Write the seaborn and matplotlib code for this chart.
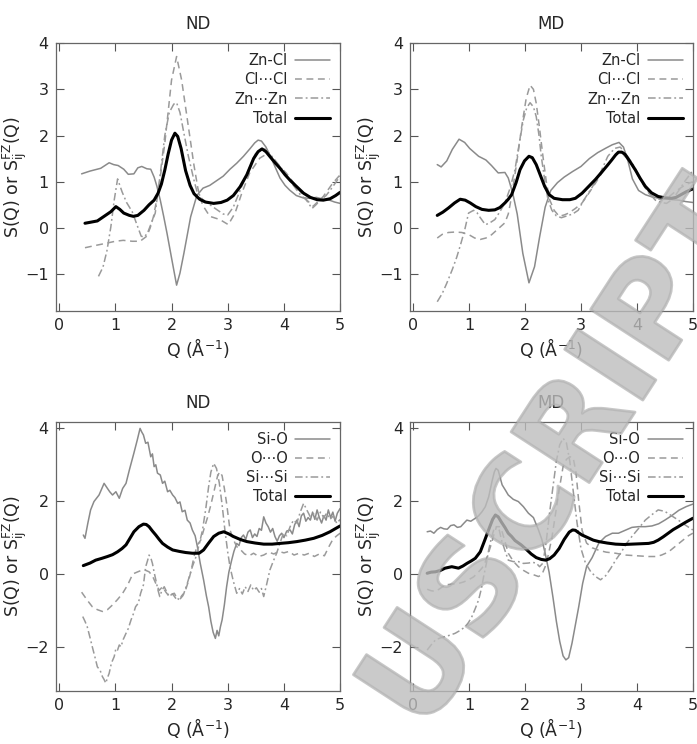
import matplotlib
matplotlib.use("Agg")
import numpy as np
import pandas as pd
import seaborn as sns
from matplotlib import pyplot as plt
from matplotlib import patheffects

# ---- top-left: ZnCl2, ND ----
q_nd_zncl = [0.40, 0.55, 0.74, 0.89, 0.97, 1.05, 1.15, 1.23, 1.33, 1.40, 1.47, 1.56, 1.63, 1.69, 1.74,
             1.80, 1.86, 1.92, 2.00, 2.09, 2.15, 2.22, 2.34, 2.45, 2.56, 2.68, 2.80, 2.92, 3.04, 3.16,
             3.28, 3.40, 3.48, 3.54, 3.60, 3.68, 3.76, 3.85, 3.93, 4.02, 4.10, 4.22, 4.34, 4.46, 4.58,
             4.70, 4.81, 4.90, 5.00]
s_nd_zncl = [1.17, 1.23, 1.29, 1.41, 1.37, 1.35, 1.27, 1.16, 1.17, 1.30, 1.33, 1.28, 1.27, 1.10, 0.90,
             0.60, 0.25, -0.12, -0.65, -1.24, -0.98, -0.55, 0.24, 0.70, 0.86, 0.92, 1.02, 1.12, 1.27, 1.40,
             1.55, 1.72, 1.84, 1.90, 1.88, 1.75, 1.55, 1.30, 1.08, 0.92, 0.82, 0.70, 0.65, 0.64, 0.66,
             0.62, 0.60, 0.56, 0.53]
q_nd_clcl = [0.46, 0.65, 0.85, 1.00, 1.14, 1.30, 1.44, 1.56, 1.62, 1.68, 1.77, 1.88, 2.00, 2.09, 2.18,
             2.30, 2.40, 2.47, 2.55, 2.68, 2.86, 3.01, 3.13, 3.25, 3.39, 3.57, 3.72, 3.87, 4.04, 4.22,
             4.40, 4.52, 4.70, 4.87, 5.00]
s_nd_clcl = [-0.43, -0.38, -0.33, -0.29, -0.27, -0.29, -0.29, -0.18, 0.00, 0.25, 0.83, 1.83, 3.20, 3.71, 3.20,
             2.19, 1.35, 0.85, 0.50, 0.25, 0.18, 0.07, 0.32, 0.75, 1.19, 1.51, 1.62, 1.40, 1.19, 0.90,
             0.61, 0.47, 0.68, 0.97, 1.15]
q_nd_znzn = [0.70, 0.78, 0.85, 0.92, 0.98, 1.04, 1.12, 1.20, 1.30, 1.39, 1.46, 1.51, 1.57, 1.64, 1.71,
             1.80, 1.88, 1.96, 2.04, 2.09, 2.15, 2.22, 2.30, 2.40, 2.45, 2.55, 2.66, 2.80, 2.92, 3.00,
             3.10, 3.20, 3.34, 3.49, 3.60, 3.68, 3.82, 3.95, 4.05, 4.18, 4.29, 4.40, 4.50, 4.57, 4.65,
             4.75, 4.82, 4.92, 5.00]
s_nd_znzn = [-1.05, -0.85, -0.50, 0.02, 0.60, 1.06, 0.78, 0.55, 0.35, 0.05, -0.18, -0.20, -0.12, 0.10, 0.32,
             1.17, 2.00, 2.50, 2.68, 2.71, 2.50, 2.05, 1.55, 1.03, 0.80, 0.62, 0.52, 0.40, 0.30, 0.28,
             0.45, 0.75, 1.17, 1.60, 1.72, 1.70, 1.50, 1.30, 1.12, 0.90, 0.72, 0.60, 0.42, 0.50, 0.60,
             0.70, 0.81, 0.98, 1.12]
q_nd_tot1 = [0.46, 0.55, 0.68, 0.80, 0.92, 1.01, 1.08, 1.15, 1.25, 1.32, 1.40, 1.51, 1.60, 1.69, 1.76,
             1.82, 1.88, 1.94, 2.00, 2.06, 2.11, 2.17, 2.25, 2.33, 2.40, 2.50, 2.60, 2.75, 2.88, 2.99,
             3.10, 3.22, 3.34, 3.46, 3.54, 3.61, 3.68, 3.76, 3.85, 3.93, 4.02, 4.11, 4.22, 4.35, 4.47,
             4.59, 4.70, 4.82, 4.92, 5.00]
s_nd_tot1 = [0.10, 0.12, 0.15, 0.25, 0.35, 0.46, 0.40, 0.32, 0.27, 0.25, 0.27, 0.38, 0.50, 0.60, 0.75,
             0.95, 1.25, 1.60, 1.90, 2.05, 1.98, 1.72, 1.24, 0.92, 0.74, 0.62, 0.56, 0.53, 0.55, 0.60,
             0.70, 0.89, 1.15, 1.50, 1.65, 1.71, 1.65, 1.53, 1.40, 1.29, 1.15, 1.03, 0.90, 0.75, 0.66,
             0.61, 0.60, 0.63, 0.70, 0.77]

# ---- top-right: ZnCl2, MD ----
q_md_zncl = [0.43, 0.50, 0.60, 0.70, 0.82, 0.92, 1.01, 1.17, 1.30, 1.40, 1.52, 1.64, 1.70, 1.78, 1.86,
             1.96, 2.07, 2.17, 2.26, 2.36, 2.46, 2.58, 2.70, 2.85, 3.00, 3.15, 3.30, 3.45, 3.56, 3.68,
             3.76, 3.84, 3.92, 4.03, 4.15, 4.27, 4.40, 4.51, 4.63, 4.75, 4.87, 5.00]
s_md_zncl = [1.37, 1.32, 1.45, 1.70, 1.92, 1.85, 1.72, 1.55, 1.47, 1.35, 1.19, 1.20, 1.08, 0.75, 0.30,
             -0.55, -1.19, -0.84, -0.20, 0.45, 0.81, 0.98, 1.10, 1.22, 1.33, 1.50, 1.63, 1.73, 1.80, 1.85,
             1.75, 1.45, 1.06, 0.81, 0.72, 0.67, 0.64, 0.63, 0.61, 0.60, 0.57, 0.55]
q_md_clcl = [0.43, 0.52, 0.63, 0.75, 0.87, 1.00, 1.10, 1.20, 1.30, 1.40, 1.52, 1.64, 1.70, 1.76, 1.85,
             1.94, 2.02, 2.09, 2.15, 2.20, 2.26, 2.32, 2.38, 2.44, 2.52, 2.61, 2.70, 2.78, 2.90, 3.02,
             3.14, 3.26, 3.38, 3.50, 3.60, 3.67, 3.76, 3.85, 3.94, 4.03, 4.12, 4.21, 4.32, 4.44, 4.56,
             4.68, 4.80, 4.90, 5.00]
s_md_clcl = [-0.22, -0.14, -0.10, -0.09, -0.10, -0.15, -0.22, -0.25, -0.22, -0.15, -0.02, 0.11, 0.30, 0.68, 1.40,
             2.19, 2.80, 3.09, 3.00, 2.70, 2.15, 1.55, 1.00, 0.61, 0.38, 0.25, 0.28, 0.32, 0.42, 0.54,
             0.75, 0.97, 1.20, 1.40, 1.55, 1.62, 1.58, 1.47, 1.30, 1.11, 0.92, 0.75, 0.65, 0.61, 0.66,
             0.78, 0.88, 0.95, 1.00]
q_md_znzn = [0.43, 0.52, 0.60, 0.70, 0.78, 0.85, 0.92, 0.99, 1.08, 1.14, 1.20, 1.29, 1.36, 1.46, 1.55,
             1.64, 1.73, 1.82, 1.90, 1.97, 2.03, 2.09, 2.15, 2.20, 2.25, 2.29, 2.35, 2.41, 2.48, 2.56,
             2.65, 2.75, 2.85, 2.95, 3.05, 3.20, 3.35, 3.48, 3.60, 3.70, 3.78, 3.86, 3.94, 4.03, 4.12,
             4.22, 4.33, 4.44, 4.53, 4.64, 4.75, 4.87, 5.00]
s_md_znzn = [-1.60, -1.42, -1.20, -0.90, -0.63, -0.35, -0.05, 0.32, 0.38, 0.33, 0.22, 0.07, 0.10, 0.18, 0.35,
             0.54, 0.85, 1.26, 1.85, 2.34, 2.60, 2.71, 2.62, 2.41, 2.00, 1.55, 1.05, 0.61, 0.38, 0.26,
             0.22, 0.26, 0.30, 0.38, 0.60, 0.88, 1.20, 1.55, 1.72, 1.75, 1.65, 1.50, 1.35, 1.15, 0.95,
             0.75, 0.60, 0.55, 0.53, 0.62, 0.81, 1.03, 1.24]
q_md_tot1 = [0.43, 0.53, 0.63, 0.74, 0.84, 0.93, 1.02, 1.12, 1.23, 1.35, 1.46, 1.55, 1.64, 1.70, 1.76,
             1.84, 1.91, 1.99, 2.07, 2.13, 2.20, 2.28, 2.35, 2.43, 2.52, 2.67, 2.80, 2.90, 3.02, 3.14,
             3.26, 3.38, 3.47, 3.55, 3.62, 3.67, 3.73, 3.79, 3.88, 3.97, 4.06, 4.15, 4.26, 4.38, 4.50,
             4.62, 4.70, 4.79, 4.88, 4.97, 5.00]
s_md_tot1 = [0.27, 0.34, 0.43, 0.54, 0.62, 0.60, 0.54, 0.46, 0.40, 0.38, 0.39, 0.44, 0.54, 0.62, 0.72,
             0.98, 1.26, 1.45, 1.55, 1.52, 1.37, 1.12, 0.90, 0.72, 0.64, 0.61, 0.61, 0.64, 0.75, 0.90,
             1.05, 1.22, 1.35, 1.47, 1.58, 1.64, 1.64, 1.59, 1.43, 1.26, 1.07, 0.90, 0.76, 0.68, 0.65,
             0.64, 0.66, 0.72, 0.78, 0.83, 0.84]

# ---- bottom-left: SiO2, ND ----
q_nd_sio = [0.43, 0.46, 0.51, 0.56, 0.62, 0.71, 0.80, 0.86, 0.90, 0.95, 1.01, 1.07, 1.13, 1.19, 1.25,
            1.33, 1.39, 1.44, 1.47, 1.50, 1.54, 1.58, 1.63, 1.66, 1.69, 1.72, 1.75, 1.80, 1.84, 1.88,
            1.93, 1.97, 2.02, 2.06, 2.11, 2.15, 2.19, 2.24, 2.28, 2.33, 2.37, 2.42, 2.46, 2.51, 2.57,
            2.62, 2.66, 2.70, 2.74, 2.78, 2.81, 2.84, 2.87, 2.90, 2.94, 2.98, 3.02, 3.07, 3.11, 3.16,
            3.20, 3.24, 3.28, 3.32, 3.36, 3.40, 3.44, 3.48, 3.52, 3.56, 3.60, 3.64, 3.68, 3.72, 3.76,
            3.80, 3.84, 3.88, 3.92, 3.96, 4.00, 4.05, 4.11, 4.15, 4.19, 4.23, 4.27, 4.31, 4.35, 4.39,
            4.43, 4.47, 4.51, 4.55, 4.59, 4.63, 4.67, 4.71, 4.75, 4.79, 4.83, 4.87, 4.91, 4.95, 5.00]
s_nd_sio = [1.07, 0.98, 1.39, 1.76, 1.99, 2.17, 2.49, 2.35, 2.26, 2.17, 2.26, 2.08, 2.35, 2.49, 2.86,
            3.32, 3.68, 4.00, 3.90, 3.82, 3.59, 3.62, 3.22, 3.30, 2.95, 3.00, 2.77, 2.72, 2.49, 2.55,
            2.26, 2.30, 2.17, 2.10, 1.94, 1.98, 1.71, 1.75, 1.48, 1.40, 1.21, 1.05, 0.75, 0.30, -0.16,
            -0.60, -0.90, -1.30, -1.60, -1.77, -1.55, -1.70, -1.45, -1.26, -0.85, -0.35, 0.05, 0.38, 0.62, 0.84,
            0.78, 1.00, 1.07, 0.95, 1.15, 1.21, 1.00, 1.10, 1.03, 1.25, 1.20, 1.57, 1.40, 1.30, 1.15,
            1.25, 1.03, 0.90, 1.05, 1.12, 1.00, 1.18, 1.21, 1.10, 1.35, 1.48, 1.30, 1.60, 1.67, 1.45,
            1.55, 1.48, 1.70, 1.50, 1.76, 1.55, 1.40, 1.60, 1.48, 1.76, 1.55, 1.70, 1.45, 1.67, 1.80]
q_nd_oo = [0.40, 0.50, 0.59, 0.68, 0.77, 0.86, 0.95, 1.04, 1.13, 1.22, 1.31, 1.40, 1.48, 1.54, 1.60,
           1.66, 1.72, 1.78, 1.84, 1.90, 1.96, 2.02, 2.08, 2.14, 2.20, 2.25, 2.30, 2.35, 2.40, 2.46,
           2.52, 2.58, 2.64, 2.70, 2.76, 2.82, 2.86, 2.90, 2.94, 2.98, 3.04, 3.10, 3.16, 3.22, 3.30,
           3.38, 3.46, 3.55, 3.64, 3.73, 3.82, 3.91, 4.00, 4.09, 4.18, 4.27, 4.36, 4.45, 4.54, 4.63,
           4.72, 4.80, 4.87, 4.94, 5.00]
s_nd_oo = [-0.50, -0.72, -0.90, -0.98, -1.03, -0.98, -0.85, -0.70, -0.53, -0.30, 0.00, 0.06, 0.11, 0.10, 0.06,
           -0.05, -0.26, -0.45, -0.35, -0.50, -0.62, -0.55, -0.68, -0.71, -0.60, -0.44, -0.20, 0.10, 0.48, 0.80,
           0.93, 1.25, 1.55, 1.90, 2.30, 2.70, 2.81, 2.70, 2.35, 1.94, 1.21, 0.95, 0.75, 0.68, 0.55,
           0.50, 0.57, 0.48, 0.52, 0.60, 0.55, 0.62, 0.58, 0.62, 0.52, 0.57, 0.52, 0.57, 0.48, 0.55,
           0.50, 0.75, 0.95, 1.05, 1.12]
q_nd_sisi = [0.42, 0.46, 0.50, 0.55, 0.59, 0.64, 0.68, 0.73, 0.77, 0.80, 0.83, 0.86, 0.89, 0.93, 0.98,
             1.01, 1.04, 1.07, 1.10, 1.14, 1.19, 1.23, 1.28, 1.32, 1.36, 1.41, 1.45, 1.50, 1.54, 1.57,
             1.60, 1.63, 1.66, 1.69, 1.72, 1.76, 1.79, 1.83, 1.87, 1.91, 1.96, 2.01, 2.05, 2.09, 2.14,
             2.18, 2.22, 2.28, 2.33, 2.37, 2.43, 2.49, 2.55, 2.61, 2.66, 2.70, 2.75, 2.80, 2.85, 2.90,
             2.95, 3.00, 3.04, 3.10, 3.16, 3.21, 3.26, 3.31, 3.36, 3.41, 3.46, 3.51, 3.56, 3.60, 3.64,
             3.69, 3.75, 3.81, 3.87, 3.93, 3.99, 4.05, 4.11, 4.17, 4.23, 4.29, 4.35, 4.41, 4.47, 4.53,
             4.59, 4.65, 4.71, 4.76, 4.82, 4.88, 4.94, 5.00]
s_nd_sisi = [-1.17, -1.30, -1.45, -1.75, -2.00, -2.30, -2.55, -2.65, -2.82, -2.90, -3.00, -2.85, -2.73, -2.45, -2.27,
             -2.05, -2.09, -1.95, -2.00, -1.80, -1.63, -1.50, -1.26, -1.10, -0.90, -0.80, -0.53, -0.30, 0.20, 0.35,
             0.52, 0.45, 0.29, 0.05, -0.16, -0.45, -0.62, -0.45, -0.35, -0.48, -0.62, -0.55, -0.53, -0.65, -0.71,
             -0.60, -0.53, -0.26, 0.00, 0.20, 0.45, 0.80, 1.20, 1.80, 2.40, 2.80, 3.04, 2.90, 2.50, 1.90,
             1.20, 0.60, 0.20, -0.20, -0.53, -0.40, -0.55, -0.35, -0.48, -0.30, -0.45, -0.38, -0.50, -0.40, -0.62,
             -0.30, 0.11, 0.35, 0.57, 0.85, 1.12, 1.05, 1.30, 1.48, 1.40, 1.70, 1.94, 1.75, 1.57, 1.65,
             1.48, 1.70, 1.55, 1.67, 1.50, 1.60, 1.39, 1.50]
q_nd_tot2 = [0.43, 0.55, 0.65, 0.76, 0.86, 0.95, 1.04, 1.12, 1.19, 1.26, 1.33, 1.42, 1.50, 1.55, 1.60,
             1.66, 1.72, 1.78, 1.84, 1.93, 2.02, 2.14, 2.25, 2.37, 2.49, 2.57, 2.66, 2.75, 2.84, 2.93,
             3.02, 3.10, 3.22, 3.34, 3.49, 3.64, 3.79, 3.93, 4.08, 4.23, 4.38, 4.53, 4.68, 4.82, 4.92,
             5.00]
s_nd_tot2 = [0.23, 0.30, 0.38, 0.43, 0.48, 0.53, 0.61, 0.70, 0.80, 0.98, 1.16, 1.30, 1.37, 1.36, 1.30,
             1.18, 1.07, 0.95, 0.84, 0.74, 0.66, 0.62, 0.59, 0.57, 0.57, 0.66, 0.85, 1.03, 1.12, 1.16,
             1.10, 1.03, 0.95, 0.89, 0.85, 0.82, 0.82, 0.84, 0.86, 0.89, 0.93, 0.98, 1.06, 1.16, 1.25,
             1.32]

# ---- bottom-right: SiO2, MD ----
q_md_sio = [0.25, 0.31, 0.37, 0.43, 0.49, 0.55, 0.61, 0.67, 0.73, 0.79, 0.85, 0.91, 0.96, 1.03, 1.11,
            1.17, 1.23, 1.29, 1.35, 1.41, 1.45, 1.48, 1.52, 1.59, 1.65, 1.70, 1.79, 1.88, 1.97, 2.06,
            2.15, 2.24, 2.30, 2.36, 2.43, 2.50, 2.56, 2.62, 2.68, 2.73, 2.78, 2.84, 2.90, 2.96, 3.03,
            3.10, 3.20, 3.32, 3.44, 3.56, 3.67, 3.79, 3.91, 4.03, 4.15, 4.27, 4.39, 4.50, 4.62, 4.75,
            4.88, 5.00]
s_md_sio = [1.16, 1.18, 1.12, 1.22, 1.28, 1.24, 1.23, 1.33, 1.35, 1.28, 1.30, 1.40, 1.48, 1.45, 1.53,
            1.60, 1.71, 1.85, 2.12, 2.55, 2.80, 2.90, 2.85, 2.45, 2.30, 2.17, 2.05, 1.99, 1.85, 1.67,
            1.55, 1.21, 0.95, 0.57, 0.05, -0.65, -1.30, -1.85, -2.25, -2.36, -2.30, -1.90, -1.40, -0.90, -0.26,
            0.20, 0.45, 0.85, 1.03, 1.12, 1.12, 1.20, 1.28, 1.30, 1.30, 1.32, 1.38, 1.48, 1.60, 1.75,
            1.85, 1.92]
q_md_oo = [0.25, 0.32, 0.40, 0.48, 0.57, 0.69, 0.81, 0.90, 0.99, 1.08, 1.17, 1.23, 1.28, 1.34, 1.40,
           1.45, 1.49, 1.54, 1.58, 1.64, 1.70, 1.79, 1.88, 1.97, 2.06, 2.15, 2.24, 2.30, 2.36, 2.42,
           2.48, 2.55, 2.62, 2.68, 2.74, 2.80, 2.86, 2.91, 2.96, 3.02, 3.10, 3.20, 3.32, 3.45, 3.62,
           3.80, 4.00, 4.21, 4.35, 4.44, 4.56, 4.68, 4.80, 4.92, 5.00]
s_md_oo = [-0.42, -0.46, -0.48, -0.40, -0.30, -0.28, -0.26, -0.22, -0.16, -0.08, 0.06, 0.16, 0.29, 0.55, 0.84,
           1.12, 1.30, 1.30, 1.21, 0.90, 0.57, 0.35, 0.20, 0.10, 0.02, -0.02, -0.07, -0.02, 0.20, 0.55,
           1.00, 1.70, 2.40, 2.95, 3.15, 3.22, 3.20, 2.80, 2.00, 1.20, 0.85, 0.72, 0.65, 0.60, 0.57,
           0.52, 0.50, 0.48, 0.48, 0.52, 0.60, 0.75, 0.90, 1.05, 1.12]
q_md_sisi = [0.25, 0.32, 0.40, 0.48, 0.57, 0.66, 0.75, 0.84, 0.93, 0.99, 1.05, 1.11, 1.17, 1.22, 1.26,
             1.31, 1.35, 1.40, 1.44, 1.49, 1.54, 1.58, 1.64, 1.70, 1.79, 1.88, 1.97, 2.06, 2.13, 2.20,
             2.26, 2.32, 2.38, 2.44, 2.50, 2.56, 2.62, 2.68, 2.74, 2.80, 2.86, 2.93, 3.00, 3.08, 3.18,
             3.27, 3.35, 3.44, 3.53, 3.62, 3.72, 3.82, 3.91, 4.03, 4.15, 4.26, 4.38, 4.50, 4.62, 4.74,
             4.86, 5.00]
s_md_sisi = [-2.09, -1.95, -1.81, -1.76, -1.72, -1.68, -1.63, -1.55, -1.45, -1.33, -1.17, -0.95, -0.71, -0.40, -0.07,
             0.30, 0.66, 1.00, 1.21, 1.30, 1.20, 0.93, 0.65, 0.38, 0.34, 0.34, 0.29, 0.30, 0.32, 0.30,
             0.20, 0.30, 0.90, 1.70, 2.40, 3.10, 3.55, 3.73, 3.60, 3.10, 2.30, 1.40, 0.70, 0.30, 0.05,
             -0.08, -0.16, -0.05, 0.15, 0.38, 0.60, 0.85, 1.03, 1.25, 1.48, 1.62, 1.76, 1.72, 1.60, 1.48,
             1.35, 1.21]
q_md_tot2 = [0.25, 0.32, 0.40, 0.49, 0.57, 0.69, 0.81, 0.89, 0.96, 1.04, 1.11, 1.20, 1.28, 1.37, 1.42,
             1.47, 1.52, 1.58, 1.64, 1.70, 1.76, 1.82, 1.93, 2.02, 2.11, 2.20, 2.29, 2.37, 2.44, 2.52,
             2.61, 2.70, 2.79, 2.85, 2.90, 2.96, 3.02, 3.12, 3.22, 3.32, 3.47, 3.62, 3.77, 3.91, 4.06,
             4.21, 4.30, 4.38, 4.47, 4.56, 4.65, 4.74, 4.87, 5.00]
s_md_tot2 = [0.02, 0.05, 0.06, 0.10, 0.16, 0.20, 0.16, 0.22, 0.29, 0.36, 0.43, 0.61, 0.93, 1.30, 1.50,
             1.62, 1.57, 1.42, 1.28, 1.12, 1.03, 0.92, 0.80, 0.68, 0.55, 0.45, 0.40, 0.38, 0.42, 0.52,
             0.70, 0.95, 1.15, 1.21, 1.20, 1.13, 1.07, 1.00, 0.93, 0.89, 0.85, 0.82, 0.81, 0.82, 0.83,
             0.84, 0.87, 0.93, 1.02, 1.12, 1.22, 1.30, 1.42, 1.53]

titles = ["ND", "MD", "ND", "MD"]
labels_zn = ["Zn-Cl", "Cl\u22efCl", "Zn\u22efZn", "Total"]
labels_si = ["Si-O", "O\u22efO", "Si\u22efSi", "Total"]
x_ticks = [0, 1, 2, 3, 4, 5]
y_ticks_top = [-1, 0, 1, 2, 3, 4]
y_ticks_bot = [-2, 0, 2, 4]

sns.set_style("ticks")
plt.rcParams["font.family"] = ["DejaVu Sans"]
plt.rcParams["mathtext.default"] = "regular"

# solid, dashed, dash-dot, thick total
styles = [
    dict(color="#8a8a8a", linewidth=1.1, linestyle="-"),
    dict(color="#9a9a9a", linewidth=1.1, linestyle=(0, (4.5, 3))),
    dict(color="#9a9a9a", linewidth=1.1, linestyle=(0, (5, 2, 1.2, 2))),
    dict(color="black", linewidth=2.2, linestyle="-"),
]

panels = [
    ([0.080, 0.582, 0.408, 0.360], [(q_nd_zncl, s_nd_zncl), (q_nd_clcl, s_nd_clcl), (q_nd_znzn, s_nd_znzn), (q_nd_tot1, s_nd_tot1)], labels_zn, (-1.8, 4.0), y_ticks_top),
    ([0.588, 0.582, 0.406, 0.360], [(q_md_zncl, s_md_zncl), (q_md_clcl, s_md_clcl), (q_md_znzn, s_md_znzn), (q_md_tot1, s_md_tot1)], labels_zn, (-1.8, 4.0), y_ticks_top),
    ([0.080, 0.071, 0.408, 0.362], [(q_nd_sio, s_nd_sio), (q_nd_oo, s_nd_oo), (q_nd_sisi, s_nd_sisi), (q_nd_tot2, s_nd_tot2)], labels_si, (-3.22, 4.18), y_ticks_bot),
    ([0.588, 0.071, 0.406, 0.362], [(q_md_sio, s_md_sio), (q_md_oo, s_md_oo), (q_md_sisi, s_md_sisi), (q_md_tot2, s_md_tot2)], labels_si, (-3.22, 4.18), y_ticks_bot),
]

fig = plt.figure(figsize=(6.97, 7.44), dpi=100)

for i, (rect, curves, labels, ylim, yticks) in enumerate(panels):
    ax = fig.add_axes(rect)
    for (q, s), lab, st in zip(curves, labels, styles):
        df = pd.DataFrame({"Q": q, "S": s})
        sns.lineplot(data=df, x="Q", y="S", ax=ax, sort=False, estimator=None,
                     label=lab, **st)
    ax.set_xlim(-0.06, 5.0)
    ax.set_ylim(*ylim)
    ax.set_xticks(x_ticks)
    ax.set_yticks(yticks)
    ax.tick_params(direction="in", length=6, width=0.8, top=True, right=True,
                   labelsize=11.5, color="#555555", pad=5)
    for sp in ax.spines.values():
        sp.set_color("#666666")
        sp.set_linewidth(0.9)
    ax.set_title(titles[i], fontsize=12, pad=10)
    ax.set_xlabel("Q (\u00c5$^{-1}$)", fontsize=12.5, labelpad=2)
    ax.set_ylabel("S(Q) or S$_{ij}^{FZ}$(Q)", fontsize=12.5)
    ax.yaxis.set_label_coords(-0.095, 0.5)
    ax.legend(loc="upper right", frameon=False, markerfirst=False, fontsize=10.5,
              handlelength=2.4, handletextpad=0.5, labelspacing=0.28,
              borderaxespad=0.3, borderpad=0.4)

# "ACCEPTED MANUSCRIPT" style watermark crossing the right-hand panels
fig.text(0.808, 0.385, "USCRIPT", rotation=57, rotation_mode="anchor",
         ha="center", va="center", fontsize=92, fontweight="bold",
         color="#bdbdbd", alpha=0.55, zorder=10,
         path_effects=[patheffects.withStroke(linewidth=2, foreground="#9a9a9a")])

fig.savefig("out.png", dpi=100)
